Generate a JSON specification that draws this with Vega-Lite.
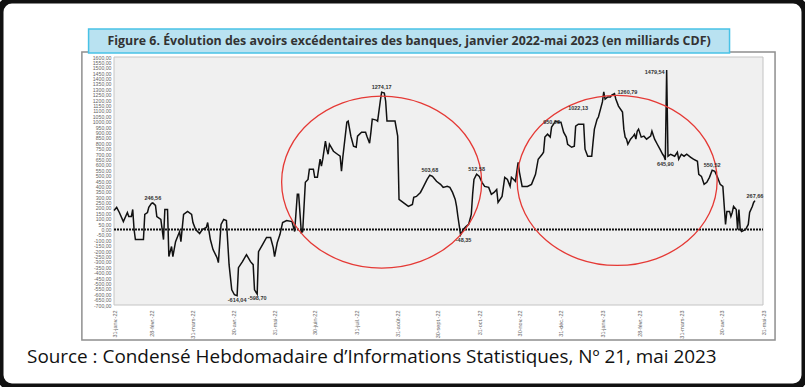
{
"$schema": "https://vega.github.io/schema/vega-lite/v6.json",
"width": 805, "height": 387, "autosize": "none", "padding": 0,
"background": "white",
"view": {"fill": "white", "stroke": "#111111", "strokeWidth": 7, "cornerRadius": 12},
"config": {
 "font": "Liberation Sans",
 "axis": {"title": null, "ticks": false, "tickSize": 0, "domain": false, "grid": false, "labelOverlap": false, "labelFlush": false, "zindex": 1, "labelFontSize": 5.5, "labelColor": "#666666"},
 "axisX": {"labelAngle": -90, "labelAlign": "right", "labelBaseline": "middle", "labelPadding": 5, "labelOverlap": false},
 "axisY": {"labelPadding": 3, "labelBaseline": "middle", "labelOverlap": false, "labelFontSize": 5.2},
 "locale": {
  "number": {"decimal": ",", "thousands": " ", "grouping": [3], "currency": ["", " €"], "minus": "-"},
  "time": {"dateTime": "%A %e %B %Y à %X", "date": "%d/%m/%Y", "time": "%H:%M:%S", "periods": ["AM", "PM"],
   "days": ["dimanche","lundi","mardi","mercredi","jeudi","vendredi","samedi"],
   "shortDays": ["dim.","lun.","mar.","mer.","jeu.","ven.","sam."],
   "months": ["janvier","février","mars","avril","mai","juin","juillet","août","septembre","octobre","novembre","décembre"],
   "shortMonths": ["janv.","févr.","mars","avr.","mai","juin","juil.","août","sept.","oct.","nov.","déc."]}
 }
},
"data": {"values": [
{"date":"2022/01/31","v":177},{"date":"2022/02/02","v":205},{"date":"2022/02/04","v":158},{"date":"2022/02/07","v":74},{"date":"2022/02/10","v":158},{"date":"2022/02/11","v":121},{"date":"2022/02/13","v":121},{"date":"2022/02/14","v":186},{"date":"2022/02/15","v":0},{"date":"2022/02/16","v":-93},{"date":"2022/02/22","v":-93},{"date":"2022/02/23","v":140},{"date":"2022/02/25","v":158},{"date":"2022/02/26","v":205},{"date":"2022/02/28","v":242},{"date":"2022/03/01","v":246.56,"lab":"246,56"},{"date":"2022/03/03","v":223},{"date":"2022/03/04","v":121},{"date":"2022/03/07","v":93},{"date":"2022/03/09","v":-93},{"date":"2022/03/10","v":186},{"date":"2022/03/12","v":186},{"date":"2022/03/13","v":-251},{"date":"2022/03/15","v":-158},{"date":"2022/03/16","v":-251},{"date":"2022/03/18","v":-112},{"date":"2022/03/21","v":-19},{"date":"2022/03/22","v":-112},{"date":"2022/03/24","v":140},{"date":"2022/03/27","v":168},{"date":"2022/03/30","v":140},{"date":"2022/03/31","v":65},
{"date":"2022/04/02","v":0},{"date":"2022/04/05","v":-37},{"date":"2022/04/07","v":0},{"date":"2022/04/10","v":19},{"date":"2022/04/11","v":65},{"date":"2022/04/13","v":-93},{"date":"2022/04/15","v":-186},{"date":"2022/04/18","v":-261},{"date":"2022/04/19","v":-307},{"date":"2022/04/21","v":47},{"date":"2022/04/23","v":93},{"date":"2022/04/25","v":84},{"date":"2022/04/27","v":-326},{"date":"2022/04/29","v":-559},{"date":"2022/05/01","v":-605},{"date":"2022/05/03","v":-614.04,"lab":"-614,04"},{"date":"2022/05/04","v":-354},{"date":"2022/05/07","v":-298},{"date":"2022/05/10","v":-233},{"date":"2022/05/13","v":-298},{"date":"2022/05/15","v":-326},{"date":"2022/05/16","v":-559},{"date":"2022/05/18","v":-598.70,"lab":"-598,70"},{"date":"2022/05/19","v":-205},{"date":"2022/05/22","v":-140},{"date":"2022/05/25","v":-74},{"date":"2022/05/28","v":-74},{"date":"2022/05/30","v":-168},{"date":"2022/05/31","v":-251},
{"date":"2022/06/02","v":-121},{"date":"2022/06/04","v":-47},{"date":"2022/06/06","v":65},{"date":"2022/06/09","v":84},{"date":"2022/06/13","v":74},{"date":"2022/06/15","v":-19},{"date":"2022/06/17","v":326},{"date":"2022/06/18","v":326},{"date":"2022/06/20","v":-28},{"date":"2022/06/21","v":-19},{"date":"2022/06/23","v":438},{"date":"2022/06/25","v":465},{"date":"2022/06/26","v":559},{"date":"2022/06/29","v":559},{"date":"2022/06/30","v":484},{"date":"2022/07/02","v":484},{"date":"2022/07/04","v":652},{"date":"2022/07/05","v":587},{"date":"2022/07/06","v":652},{"date":"2022/07/08","v":819},{"date":"2022/07/09","v":745},{"date":"2022/07/10","v":698},{"date":"2022/07/11","v":791},{"date":"2022/07/14","v":726},{"date":"2022/07/17","v":698},{"date":"2022/07/19","v":680},{"date":"2022/07/20","v":540},{"date":"2022/07/21","v":670},{"date":"2022/07/24","v":996},{"date":"2022/07/25","v":1006},{"date":"2022/07/27","v":866},{"date":"2022/07/29","v":773},{"date":"2022/07/31","v":763},
{"date":"2022/08/01","v":866},{"date":"2022/08/04","v":903},{"date":"2022/08/07","v":903},{"date":"2022/08/08","v":866},{"date":"2022/08/10","v":801},{"date":"2022/08/11","v":903},{"date":"2022/08/12","v":1024},{"date":"2022/08/15","v":1015},{"date":"2022/08/16","v":1006},{"date":"2022/08/18","v":1192},{"date":"2022/08/19","v":1274.17,"lab":"1274,17"},{"date":"2022/08/21","v":1266},{"date":"2022/08/22","v":1192},{"date":"2022/08/23","v":1006},{"date":"2022/08/29","v":1006},{"date":"2022/08/31","v":866},{"date":"2022/09/01","v":279},{"date":"2022/09/03","v":261},{"date":"2022/09/05","v":242},{"date":"2022/09/08","v":214},{"date":"2022/09/11","v":233},{"date":"2022/09/12","v":298},{"date":"2022/09/14","v":307},{"date":"2022/09/17","v":344},{"date":"2022/09/19","v":391},{"date":"2022/09/22","v":465},{"date":"2022/09/24","v":503.68,"lab":"503,68"},{"date":"2022/09/26","v":493},{"date":"2022/09/29","v":447},
{"date":"2022/10/02","v":419},{"date":"2022/10/04","v":391},{"date":"2022/10/07","v":400},{"date":"2022/10/09","v":391},{"date":"2022/10/11","v":344},{"date":"2022/10/13","v":279},{"date":"2022/10/14","v":214},{"date":"2022/10/15","v":121},{"date":"2022/10/17","v":-48.35,"lab":"-48,35"},{"date":"2022/10/19","v":0},{"date":"2022/10/21","v":28},{"date":"2022/10/23","v":47},{"date":"2022/10/25","v":140},{"date":"2022/10/26","v":326},{"date":"2022/10/27","v":465},{"date":"2022/10/29","v":512.58,"lab":"512,58"},{"date":"2022/10/31","v":493},{"date":"2022/11/02","v":438},{"date":"2022/11/04","v":400},{"date":"2022/11/07","v":391},{"date":"2022/11/09","v":326},{"date":"2022/11/11","v":344},{"date":"2022/11/13","v":372},{"date":"2022/11/14","v":251},{"date":"2022/11/17","v":307},{"date":"2022/11/19","v":484},{"date":"2022/11/21","v":465},{"date":"2022/11/23","v":400},{"date":"2022/11/24","v":484},{"date":"2022/11/27","v":447},{"date":"2022/11/29","v":624},{"date":"2022/11/30","v":531},
{"date":"2022/12/02","v":400},{"date":"2022/12/06","v":400},{"date":"2022/12/09","v":419},{"date":"2022/12/12","v":512},{"date":"2022/12/14","v":652},{"date":"2022/12/17","v":698},{"date":"2022/12/18","v":717},{"date":"2022/12/19","v":857},{"date":"2022/12/21","v":884},{"date":"2022/12/23","v":857},{"date":"2022/12/24","v":950.08,"lab":"950,08"},{"date":"2022/12/27","v":1006},{"date":"2022/12/29","v":996},{"date":"2022/12/31","v":996},{"date":"2023/01/01","v":950},{"date":"2023/01/02","v":903},{"date":"2023/01/04","v":857},{"date":"2023/01/05","v":791},{"date":"2023/01/08","v":763},{"date":"2023/01/10","v":773},{"date":"2023/01/11","v":959},{"date":"2023/01/13","v":977},{"date":"2023/01/17","v":977},{"date":"2023/01/18","v":745},{"date":"2023/01/20","v":680},{"date":"2023/01/23","v":680},{"date":"2023/01/24","v":810},{"date":"2023/01/25","v":931},{"date":"2023/01/27","v":1022.13,"lab":"1022,13"},{"date":"2023/01/28","v":1043},{"date":"2023/01/31","v":1183},
{"date":"2023/02/01","v":1276},{"date":"2023/02/02","v":1210},{"date":"2023/02/04","v":1229},{"date":"2023/02/06","v":1229},{"date":"2023/02/07","v":1248},{"date":"2023/02/09","v":1260.79,"lab":"1260,79"},{"date":"2023/02/10","v":1210},{"date":"2023/02/12","v":1145},{"date":"2023/02/15","v":1089},{"date":"2023/02/16","v":931},{"date":"2023/02/17","v":857},{"date":"2023/02/18","v":838},{"date":"2023/02/19","v":791},{"date":"2023/02/21","v":838},{"date":"2023/02/23","v":866},{"date":"2023/02/24","v":884},{"date":"2023/02/25","v":838},{"date":"2023/02/26","v":912},{"date":"2023/02/27","v":931},{"date":"2023/03/01","v":857},{"date":"2023/03/03","v":866},{"date":"2023/03/05","v":838},{"date":"2023/03/08","v":866},{"date":"2023/03/09","v":912},{"date":"2023/03/11","v":838},{"date":"2023/03/13","v":791},{"date":"2023/03/15","v":745},{"date":"2023/03/17","v":698},{"date":"2023/03/18","v":680},{"date":"2023/03/19","v":645.90,"lab":"645,90"},{"date":"2023/03/20","v":1479.54,"lab":"1479,54"},{"date":"2023/03/21","v":680},{"date":"2023/03/23","v":698},{"date":"2023/03/26","v":680},{"date":"2023/03/28","v":717},{"date":"2023/03/29","v":652},{"date":"2023/03/31","v":698},
{"date":"2023/04/02","v":680},{"date":"2023/04/04","v":698},{"date":"2023/04/07","v":670},{"date":"2023/04/09","v":652},{"date":"2023/04/12","v":633},{"date":"2023/04/13","v":512},{"date":"2023/04/15","v":493},{"date":"2023/04/17","v":419},{"date":"2023/04/19","v":438},{"date":"2023/04/21","v":484},{"date":"2023/04/23","v":550.52,"lab":"550,52"},{"date":"2023/04/25","v":540},{"date":"2023/04/27","v":484},{"date":"2023/04/29","v":419},{"date":"2023/05/01","v":400},{"date":"2023/05/03","v":47},{"date":"2023/05/04","v":168},{"date":"2023/05/06","v":168},{"date":"2023/05/07","v":121},{"date":"2023/05/08","v":158},{"date":"2023/05/09","v":214},{"date":"2023/05/11","v":186},{"date":"2023/05/12","v":0},{"date":"2023/05/13","v":186},{"date":"2023/05/14","v":0},{"date":"2023/05/15","v":-19},{"date":"2023/05/18","v":0},{"date":"2023/05/20","v":47},{"date":"2023/05/21","v":158},{"date":"2023/05/23","v":214},{"date":"2023/05/24","v":251},{"date":"2023/05/25","v":267.66,"lab":"267,66"}
]},
"layer": [
 {"data": {"values": [{}]},
  "mark": {"type": "rect", "fill": "transparent", "stroke": "#8f8f8f", "strokeWidth": 1.5},
  "encoding": {
   "x": {"datum": {"year": 2022, "month": 1, "date": 7}, "type": "temporal"},
   "x2": {"datum": {"year": 2023, "month": 6, "date": 9}},
   "y": {"datum": 1646, "type": "quantitative"},
   "y2": {"datum": -1025}}},
 {"data": {"values": [{}]},
  "mark": {"type": "rect", "fill": "#b9e2f1", "stroke": "#48c2e6", "strokeWidth": 1.5},
  "encoding": {
   "x": {"datum": {"year": 2022, "month": 1, "date": 12}, "type": "temporal"},
   "x2": {"datum": {"year": 2023, "month": 5, "date": 6}},
   "y": {"datum": 1860, "type": "quantitative"},
   "y2": {"datum": 1637}}},
 {"data": {"values": [{}]},
  "mark": {"type": "text", "text": "Figure 6. Évolution des avoirs excédentaires des banques, janvier 2022-mai 2023 (en milliards CDF)", "font": "Open Sans", "fontWeight": "bold", "fontSize": 12.4, "color": "#333333", "align": "center", "baseline": "middle"},
  "encoding": {
   "x": {"datum": {"year": 2022, "month": 9, "date": 8, "hours": 12}, "type": "temporal"},
   "y": {"datum": 1748, "type": "quantitative"}}},
 {"data": {"values": [{}]},
  "mark": {"type": "rect", "fill": "#f0f0f0", "stroke": "#c4c4c4", "strokeWidth": 1},
  "encoding": {
   "x": {"datum": {"year": 2022, "month": 1, "date": 31}, "type": "temporal"},
   "x2": {"datum": {"year": 2023, "month": 5, "date": 31}},
   "y": {"datum": -700, "type": "quantitative"},
   "y2": {"datum": 1600}}},
 {"data": {"values": [{}]},
  "mark": {"type": "rule", "color": "#111111", "strokeWidth": 2, "strokeDash": [2, 1]},
  "encoding": {
   "x": {"datum": {"year": 2022, "month": 1, "date": 31}, "type": "temporal"},
   "x2": {"datum": {"year": 2023, "month": 5, "date": 31}},
   "y": {"datum": 0, "type": "quantitative"}}},
 {"mark": {"type": "line", "color": "#111111", "strokeWidth": 1.5},
  "encoding": {
   "x": {"field": "date", "type": "temporal",
    "scale": {"domain": [{"year": 2022, "month": 1, "date": 31}, {"year": 2023, "month": 5, "date": 31}], "range": [114, 763]},
    "axis": {"orient": "bottom", "offset": -82, "format": "%d-%b-%y", "labelOverlap": false, "tickCount": 40,
     "values": [{"year":2022,"month":1,"date":31},{"year":2022,"month":2,"date":28},{"year":2022,"month":3,"date":31},{"year":2022,"month":4,"date":30},{"year":2022,"month":5,"date":31},{"year":2022,"month":6,"date":30},{"year":2022,"month":7,"date":31},{"year":2022,"month":8,"date":31},{"year":2022,"month":9,"date":30},{"year":2022,"month":10,"date":31},{"year":2022,"month":11,"date":30},{"year":2022,"month":12,"date":31},{"year":2023,"month":1,"date":31},{"year":2023,"month":2,"date":28},{"year":2023,"month":3,"date":31},{"year":2023,"month":4,"date":30},{"year":2023,"month":5,"date":31}]}},
   "y": {"field": "v", "type": "quantitative",
    "scale": {"domain": [-700, 1600], "range": [305, 57], "nice": false, "zero": false},
    "axis": {"orient": "left", "offset": -114, "format": ".2f", "labelOverlap": false, "tickCount": 60, "labelFontSize": 5.2,
     "values": [-700,-650,-600,-550,-500,-450,-400,-350,-300,-250,-200,-150,-100,-50,0,50,100,150,200,250,300,350,400,450,500,550,600,650,700,750,800,850,900,950,1000,1050,1100,1150,1200,1250,1300,1350,1400,1450,1500,1550,1600]}}}},
 {"data": {"values": [{}]},
  "mark": {"type": "point", "shape": "M -1 0 C -1 -0.475 -0.5523 -0.86 0 -0.86 C 0.5523 -0.86 1 -0.475 1 0 C 1 0.475 0.5523 0.86 0 0.86 C -0.5523 0.86 -1 0.475 -1 0 Z", "size": 40000, "filled": false, "stroke": "#e53935", "strokeWidth": 1.3, "opacity": 1},
  "encoding": {
   "x": {"datum": {"year": 2022, "month": 8, "date": 19}, "type": "temporal"},
   "y": {"datum": 440, "type": "quantitative"}}},
 {"data": {"values": [{}]},
  "mark": {"type": "point", "shape": "M -1 0 C -1 -0.47 -0.5523 -0.85 0 -0.85 C 0.5523 -0.85 1 -0.47 1 0 C 1 0.47 0.5523 0.85 0 0.85 C -0.5523 0.85 -1 0.47 -1 0 Z", "size": 40000, "filled": false, "stroke": "#e53935", "strokeWidth": 1.3, "opacity": 1},
  "encoding": {
   "x": {"datum": {"year": 2023, "month": 2, "date": 11}, "type": "temporal"},
   "y": {"datum": 455, "type": "quantitative"}}},
 {"transform": [{"filter": {"field": "lab", "oneOf": ["246,56","1274,17","503,68","512,58","950,08","550,52","267,66"]}}],
  "mark": {"type": "text", "fontSize": 5.5, "fontWeight": "bold", "color": "#333333", "baseline": "bottom", "align": "center", "dy": -2},
  "encoding": {"x": {"field": "date", "type": "temporal"}, "y": {"field": "v", "type": "quantitative"}, "text": {"field": "lab"}}},
 {"transform": [{"filter": {"field": "lab", "oneOf": ["-614,04","-598,70","645,90"]}}],
  "mark": {"type": "text", "fontSize": 5.5, "fontWeight": "bold", "color": "#333333", "baseline": "top", "align": "center", "dy": 2},
  "encoding": {"x": {"field": "date", "type": "temporal"}, "y": {"field": "v", "type": "quantitative"}, "text": {"field": "lab"}}},
 {"transform": [{"filter": {"field": "lab", "oneOf": ["-48,35"]}}],
  "mark": {"type": "text", "fontSize": 5.5, "fontWeight": "bold", "color": "#333333", "baseline": "top", "align": "center", "dy": 3, "dx": 3},
  "encoding": {"x": {"field": "date", "type": "temporal"}, "y": {"field": "v", "type": "quantitative"}, "text": {"field": "lab"}}},
 {"transform": [{"filter": {"field": "lab", "oneOf": ["1022,13"]}}],
  "mark": {"type": "text", "fontSize": 5.5, "fontWeight": "bold", "color": "#333333", "baseline": "middle", "align": "right", "dx": -9, "dy": -11},
  "encoding": {"x": {"field": "date", "type": "temporal"}, "y": {"field": "v", "type": "quantitative"}, "text": {"field": "lab"}}},
 {"transform": [{"filter": {"field": "lab", "oneOf": ["1260,79"]}}],
  "mark": {"type": "text", "fontSize": 5.5, "fontWeight": "bold", "color": "#333333", "baseline": "middle", "align": "left", "dx": 3, "dy": -2},
  "encoding": {"x": {"field": "date", "type": "temporal"}, "y": {"field": "v", "type": "quantitative"}, "text": {"field": "lab"}}},
 {"transform": [{"filter": {"field": "lab", "oneOf": ["1479,54"]}}],
  "mark": {"type": "text", "fontSize": 5.5, "fontWeight": "bold", "color": "#333333", "baseline": "middle", "align": "right", "dx": -2, "dy": 2},
  "encoding": {"x": {"field": "date", "type": "temporal"}, "y": {"field": "v", "type": "quantitative"}, "text": {"field": "lab"}}},
 {"data": {"values": [{}]},
  "mark": {"type": "text", "text": "Source : Condensé Hebdomadaire d’Informations Statistiques, Nº 21, mai 2023", "font": "Open Sans", "fontSize": 18.9, "color": "#111111", "align": "left", "baseline": "middle"},
  "encoding": {
   "x": {"datum": {"year": 2021, "month": 11, "date": 27}, "type": "temporal"},
   "y": {"datum": -1182, "type": "quantitative"}}}
]
}
